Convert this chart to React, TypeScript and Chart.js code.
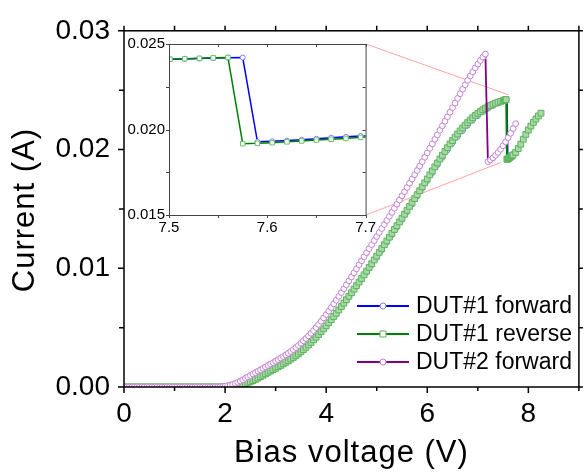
import React, { useEffect, useRef } from "react";
import { Chart, registerables } from "chart.js";

Chart.register(...registerables);

const FONT = "'Liberation Sans', Arial, Helvetica, sans-serif";

const SERIES = ["DUT#1 forward", "DUT#1 reverse", "DUT#2 forward"];
const X_TITLE = "Bias voltage (V)";
const Y_TITLE = "Current (A)";

// main axes
const X_MIN = 0, X_MAX = 9, X_MAJOR = 2, X_MINOR = 1;
const Y_MIN = 0, Y_MAX = 0.03, Y_MAJOR = 0.01, Y_MINOR = 0.005;
// inset axes
const IX_MIN = 7.5, IX_MAX = 7.7, IX_MAJOR = 0.1, IX_MINOR = 0.05;
const IY_MIN = 0.015, IY_MAX = 0.025, IY_MAJOR = 0.005, IY_MINOR = 0.0025;

// ---- DUT#1 forward: coarse sweep 0.0 .. 7.4 V (step 0.1 V)
const FWD1_RISE_V0 = 0;
const FWD1_RISE_DV = 0.1;
const FWD1_RISE = [
  0, 0, 0, 0, 0, 0, 0, 0, 0, 0,
  0, 0, 0, 0, 0, 0, 0, 0, 0, 0,
  0, 0,
  0.00004, 0.00013, 0.00026, 0.00043, 0.00063, 0.00086, 0.0011, 0.00134, 0.00157, 0.00181,
  0.00207, 0.00234, 0.00263, 0.00296, 0.00333, 0.00374, 0.00418, 0.00464, 0.00512, 0.00563,
  0.00616, 0.00671, 0.00728, 0.00786, 0.00845, 0.00904, 0.00965, 0.01026, 0.01089, 0.01152,
  0.01215, 0.01279, 0.01343, 0.01407, 0.01472, 0.01538, 0.01604, 0.01669, 0.01735, 0.01802,
  0.01868, 0.01932, 0.01994, 0.02052, 0.02106, 0.02156, 0.02202, 0.02244, 0.02281, 0.02314,
  0.02343, 0.02368, 0.0239,
];

// ---- DUT#1 fine sweep around the switching point (both directions)
const FINE_V = [7.501, 7.516, 7.531, 7.545, 7.56, 7.575, 7.59, 7.605, 7.62, 7.635, 7.65, 7.665, 7.68, 7.695];
const FWD1_FINE = [0.02411, 0.02413, 0.02415, 0.02418, 0.0242, 0.02421, 0.01928, 0.01931, 0.01935, 0.0194, 0.01946, 0.01952, 0.01957, 0.01962];
const REV1_FINE = [0.02411, 0.02414, 0.02416, 0.02419, 0.02421, 0.01917, 0.01919, 0.01923, 0.01928, 0.01933, 0.01938, 0.01943, 0.01948, 0.01954];

// ---- DUT#1 after switching: 7.75 .. 8.25 V (step 0.05 V)
const POST1_V0 = 7.75;
const POST1_DV = 0.05;
const FWD1_POST = [0.01982, 0.02014, 0.02051, 0.02092, 0.02132, 0.02168, 0.02201, 0.02231, 0.02259, 0.02284, 0.02307];
const REV1_POST = [0.01975, 0.02008, 0.02045, 0.02087, 0.02128, 0.02165, 0.02198, 0.02229, 0.02257, 0.02283, 0.02306];

// ---- DUT#1 reverse: 0.00 .. 7.45 V (step 0.05 V)
const REV1_RISE_V0 = 0;
const REV1_RISE_DV = 0.05;
const REV1_RISE = [
  0, 0, 0, 0, 0, 0, 0, 0, 0, 0,
  0, 0, 0, 0, 0, 0, 0, 0, 0, 0,
  0, 0, 0, 0, 0, 0, 0, 0, 0, 0,
  0, 0, 0, 0, 0, 0, 0, 0, 0, 0,
  0, 0, 0,
  0.00002, 0.00005, 0.00009, 0.00014, 0.0002, 0.00027, 0.00035, 0.00044, 0.00054, 0.00064,
  0.00075, 0.00087, 0.00099, 0.00111, 0.00123, 0.00135, 0.00146, 0.00158, 0.0017, 0.00182,
  0.00195, 0.00208, 0.00221, 0.00235, 0.00249, 0.00264, 0.0028, 0.00297, 0.00315, 0.00334,
  0.00354, 0.00375, 0.00397, 0.00419, 0.00442, 0.00466, 0.0049, 0.00515, 0.00541, 0.00567,
  0.00594, 0.00621, 0.00649, 0.00677, 0.00706, 0.00735, 0.00764, 0.00794, 0.00824, 0.00854,
  0.00884, 0.00914, 0.00945, 0.00976, 0.01007, 0.01038, 0.0107, 0.01102, 0.01134, 0.01166,
  0.01198, 0.0123, 0.01262, 0.01294, 0.01326, 0.01358, 0.0139, 0.01422, 0.01455, 0.01488,
  0.01521, 0.01554, 0.01587, 0.0162, 0.01653, 0.01686, 0.01719, 0.01752, 0.01786, 0.0182,
  0.01854, 0.01887, 0.0192, 0.01952, 0.01984, 0.02016, 0.02047, 0.02076, 0.02104, 0.02131,
  0.02157, 0.02182, 0.02205, 0.02227, 0.02248, 0.02268, 0.02287, 0.02304, 0.0232, 0.02335,
  0.02348, 0.0236, 0.02371, 0.02381, 0.0239, 0.02398, 0.02405,
];

// ---- DUT#2 forward: 0.00 .. 7.15 V (step 0.05 V)
const DUT2_RISE_V0 = 0;
const DUT2_RISE_DV = 0.05;
const DUT2_RISE = [
  0, 0, 0, 0, 0, 0, 0, 0, 0, 0,
  0, 0, 0, 0, 0, 0, 0, 0, 0, 0,
  0, 0, 0, 0, 0, 0, 0, 0, 0, 0,
  0, 0, 0, 0, 0, 0, 0, 0,
  0.00002, 0.00004, 0.00007, 0.00011, 0.00016, 0.00022, 0.0003, 0.00039, 0.0005, 0.00061,
  0.00073, 0.00085, 0.00097, 0.00109, 0.00121, 0.00133, 0.00145, 0.00157, 0.00169, 0.00181,
  0.00193, 0.00205, 0.00218, 0.00231, 0.00244, 0.00257, 0.0027, 0.00284, 0.00299, 0.00315,
  0.00332, 0.0035, 0.00369, 0.00389, 0.00409, 0.0043, 0.00452, 0.00476, 0.00501, 0.00527,
  0.00554, 0.00582, 0.0061, 0.00639, 0.00669, 0.007, 0.00731, 0.00763, 0.00795, 0.00828,
  0.00861, 0.00894, 0.00927, 0.00961, 0.00995, 0.01029, 0.01063, 0.01097, 0.01131, 0.01165,
  0.01199, 0.01233, 0.01267, 0.01301, 0.01335, 0.01369, 0.01403, 0.01437, 0.01471, 0.01505,
  0.0154, 0.01575, 0.0161, 0.01645, 0.0168, 0.01716, 0.01752, 0.01788, 0.01824, 0.01861,
  0.01898, 0.01935, 0.01972, 0.0201, 0.02048, 0.02086, 0.02124, 0.02162, 0.022, 0.02238,
  0.02276, 0.02314, 0.02353, 0.02392, 0.02431, 0.0247, 0.02508, 0.02546, 0.02583, 0.0262,
  0.02655, 0.02688, 0.0272, 0.0275, 0.02778, 0.02804,
];
// ---- DUT#2 after switching: 7.20 .. 7.75 V (step 0.05 V)
const DUT2_POST_V0 = 7.2;
const DUT2_POST_DV = 0.05;
const DUT2_POST = [0.01898, 0.01912, 0.0193, 0.01951, 0.01975, 0.02002, 0.02032, 0.02065, 0.021, 0.02137, 0.02176, 0.02218];

// zoom-window anchors of the connector lines (data coordinates in the main plot)
const ZOOM_TOP = { x: 7.61, y: 0.0246 };
const ZOOM_BOTTOM = { x: 7.45, y: 0.0189 };

// ---- layout (pixels)
const W = 584, H = 475;
const INSET = { left: 169, top: 44, right: 366, bottom: 215 };
const INSET_YW = 49, INSET_PT = 16, INSET_PR = 14, INSET_XH = 25;
const INSET_CW = INSET.right - INSET.left + INSET_YW + INSET_PR;
const INSET_CH = INSET.bottom - INSET.top + INSET_PT + INSET_XH;

const sweep = (v0: number, dv: number, cur: number[]) =>
  cur.map((y, i) => ({ x: Math.round((v0 + i * dv) * 10000) / 10000, y }));
const pairs = (vs: number[], cur: number[]) => vs.map((x, i) => ({ x, y: cur[i] }));

const fwd1 = [
  ...sweep(FWD1_RISE_V0, FWD1_RISE_DV, FWD1_RISE),
  ...pairs(FINE_V, FWD1_FINE),
  ...sweep(POST1_V0, POST1_DV, FWD1_POST),
];
const rev1 = [
  ...sweep(REV1_RISE_V0, REV1_RISE_DV, REV1_RISE),
  ...pairs(FINE_V, REV1_FINE),
  ...sweep(POST1_V0, POST1_DV, REV1_POST),
];
const dut2 = [
  ...sweep(DUT2_RISE_V0, DUT2_RISE_DV, DUT2_RISE),
  ...sweep(DUT2_POST_V0, DUT2_POST_DV, DUT2_POST),
];

const COLORS = {
  fwd1: { line: "#0000ff", mark: "#8080ff" },
  rev1: { line: "#008000", mark: "#5cb35c", fill: "#a9d9a9" },
  dut2: { line: "#800080", mark: "#c47fd4" },
};

function range(min: number, max: number, step: number) {
  const out: number[] = [];
  const n = Math.round((max - min) / step);
  for (let i = 0; i <= n; i++) out.push(min + i * step);
  return out;
}

const mainDecor = {
  id: "mainDecor",
  beforeDatasetsDraw(chart: any) {
    const { ctx, scales } = chart;
    const xs = scales.x, ys = scales.y;
    ctx.save();
    ctx.strokeStyle = "#ff8c8c";
    ctx.lineWidth = 0.8;
    ctx.beginPath();
    ctx.moveTo(INSET.right, INSET.top);
    ctx.lineTo(xs.getPixelForValue(ZOOM_TOP.x), ys.getPixelForValue(ZOOM_TOP.y));
    ctx.moveTo(INSET.right, INSET.bottom);
    ctx.lineTo(xs.getPixelForValue(ZOOM_BOTTOM.x), ys.getPixelForValue(ZOOM_BOTTOM.y));
    ctx.stroke();
    ctx.restore();
  },
  afterDraw(chart: any) {
    const { ctx, chartArea: a, scales } = chart;
    const xs = scales.x, ys = scales.y;
    ctx.save();
    ctx.strokeStyle = "#000";
    ctx.lineWidth = 1.5;
    ctx.strokeRect(a.left, a.top, a.right - a.left, a.bottom - a.top);
    ctx.beginPath();
    range(X_MIN, X_MAX, X_MINOR).forEach((v) => {
      const x = xs.getPixelForValue(v);
      const len = Math.abs(v / X_MAJOR - Math.round(v / X_MAJOR)) < 1e-6 ? 6 : 4;
      ctx.moveTo(x, a.bottom);
      ctx.lineTo(x, a.bottom + len);
      ctx.moveTo(x, a.top);
      ctx.lineTo(x, a.top - 5);
    });
    range(Y_MIN, Y_MAX, Y_MINOR).forEach((v) => {
      const y = ys.getPixelForValue(v);
      const len = Math.abs(v / Y_MAJOR - Math.round(v / Y_MAJOR)) < 1e-6 ? 6 : 5;
      ctx.moveTo(a.left, y);
      ctx.lineTo(a.left - len, y);
      ctx.moveTo(a.right, y);
      ctx.lineTo(a.right + 4, y);
    });
    ctx.stroke();

    // axis titles
    ctx.fillStyle = "#000";
    ctx.font = `31px ${FONT}`;
    (ctx as any).letterSpacing = "1px";
    ctx.textAlign = "center";
    ctx.textBaseline = "alphabetic";
    ctx.fillText(X_TITLE, (a.left + a.right) / 2, 462);
    ctx.save();
    ctx.translate(34, 210);
    ctx.rotate(-Math.PI / 2);
    ctx.fillText(Y_TITLE, 0, 0);
    ctx.restore();
    (ctx as any).letterSpacing = "0px";

    // legend
    const rows = [
      { name: SERIES[0], c: COLORS.fwd1, shape: "circle" },
      { name: SERIES[1], c: COLORS.rev1, shape: "rect" },
      { name: SERIES[2], c: COLORS.dut2, shape: "circle" },
    ];
    ctx.font = `23px ${FONT}`;
    ctx.textAlign = "left";
    ctx.textBaseline = "middle";
    rows.forEach((r, i) => {
      const y = 306 + i * 28;
      ctx.strokeStyle = r.c.line;
      ctx.lineWidth = 2;
      ctx.beginPath();
      ctx.moveTo(357, y);
      ctx.lineTo(409, y);
      ctx.stroke();
      ctx.fillStyle = "#fff";
      ctx.strokeStyle = r.c.mark;
      ctx.lineWidth = 1;
      ctx.beginPath();
      if (r.shape === "circle") ctx.arc(383, y, 3, 0, Math.PI * 2);
      else ctx.rect(380, y - 3, 6, 6);
      ctx.fill();
      ctx.stroke();
      ctx.fillStyle = "#000";
      ctx.fillText(r.name, 416, y + 1);
    });
    ctx.restore();
  },
};

const insetDecor = {
  id: "insetDecor",
  beforeDraw(chart: any) {
    const { ctx, chartArea: a } = chart;
    ctx.save();
    ctx.fillStyle = "#fff";
    ctx.fillRect(a.left, a.top, a.right - a.left, a.bottom - a.top);
    ctx.restore();
  },
  afterDraw(chart: any) {
    const { ctx, chartArea: a, scales } = chart;
    const xs = scales.x, ys = scales.y;
    ctx.save();
    ctx.strokeStyle = "#444";
    ctx.lineWidth = 1;
    ctx.strokeRect(a.left + 0.5, a.top + 0.5, a.right - a.left, a.bottom - a.top);
    ctx.beginPath();
    range(IX_MIN, IX_MAX, IX_MINOR).forEach((v) => {
      const x = Math.round(xs.getPixelForValue(v)) + 0.5;
      ctx.moveTo(x, a.bottom);
      ctx.lineTo(x, a.bottom + 3);
      ctx.moveTo(x, a.top);
      ctx.lineTo(x, a.top + 3);
    });
    range(IY_MIN, IY_MAX, IY_MINOR).forEach((v) => {
      const y = Math.round(ys.getPixelForValue(v)) + 0.5;
      ctx.moveTo(a.left, y);
      ctx.lineTo(a.left - 3, y);
      ctx.moveTo(a.right, y);
      ctx.lineTo(a.right - 3, y);
    });
    ctx.stroke();
    ctx.restore();
  },
};

export default function App() {
  const mainRef = useRef<HTMLCanvasElement | null>(null);
  const insetRef = useRef<HTMLCanvasElement | null>(null);

  useEffect(() => {
    const tickFont = { family: FONT, size: 28 };
    const main = new Chart(mainRef.current as HTMLCanvasElement, {
      type: "line",
      data: {
        datasets: [
          {
            label: SERIES[0], data: fwd1, borderColor: COLORS.fwd1.line, borderWidth: 1.8,
            pointStyle: "circle", pointRadius: 2.5, pointBorderWidth: 1,
            pointBorderColor: COLORS.fwd1.mark, pointBackgroundColor: "#fff", order: 3,
          },
          {
            label: SERIES[1], data: rev1, borderColor: COLORS.rev1.line, borderWidth: 1.8,
            pointStyle: "rect", pointRadius: 4.1, pointBorderWidth: 1,
            pointBorderColor: COLORS.rev1.mark, pointBackgroundColor: COLORS.rev1.fill, order: 2,
          },
          {
            label: SERIES[2], data: dut2, borderColor: COLORS.dut2.line, borderWidth: 1.8,
            pointStyle: "circle", pointRadius: 2.9, pointBorderWidth: 1,
            pointBorderColor: COLORS.dut2.mark, pointBackgroundColor: "#fff", order: 1,
          },
        ] as any,
      },
      options: {
        responsive: false,
        animation: false,
        devicePixelRatio: 1,
        layout: { padding: { top: 15, right: 3, left: 0, bottom: 0 } },
        plugins: { legend: { display: false }, tooltip: { enabled: false } },
        elements: { line: { tension: 0 } },
        scales: {
          x: {
            type: "linear", min: X_MIN, max: X_MAX,
            afterFit: (s: any) => { s.height = 88; },
            grid: { display: false, drawTicks: false },
            border: { display: false },
            ticks: {
              stepSize: X_MAJOR, includeBounds: false, padding: 10, color: "#000",
              font: tickFont, maxRotation: 0, callback: (v: any) => String(v),
            },
          },
          y: {
            type: "linear", min: Y_MIN, max: Y_MAX,
            afterFit: (s: any) => { s.width = 124; },
            grid: { display: false, drawTicks: false },
            border: { display: false },
            ticks: {
              stepSize: Y_MAJOR, padding: 14, color: "#000", font: tickFont,
              callback: (v: any) => Number(v).toFixed(2),
            },
          },
        },
      } as any,
      plugins: [mainDecor],
    });

    const insetFont = { family: FONT, size: 15 };
    const inset = new Chart(insetRef.current as HTMLCanvasElement, {
      type: "line",
      data: {
        datasets: [
          {
            label: SERIES[0], data: fwd1, borderColor: COLORS.fwd1.line, borderWidth: 1.5,
            pointStyle: "circle", pointRadius: 2.5, pointBorderWidth: 1,
            pointBorderColor: COLORS.fwd1.mark, pointBackgroundColor: "#fff", order: 2,
          },
          {
            label: SERIES[1], data: rev1, borderColor: COLORS.rev1.line, borderWidth: 1.5,
            pointStyle: "rect", pointRadius: 3.2, pointBorderWidth: 1,
            pointBorderColor: "#6cc06c", pointBackgroundColor: "#fff", order: 1,
          },
        ] as any,
      },
      options: {
        responsive: false,
        animation: false,
        devicePixelRatio: 1,
        layout: { padding: { top: INSET_PT, right: INSET_PR, left: 0, bottom: 0 } },
        plugins: { legend: { display: false }, tooltip: { enabled: false } },
        elements: { line: { tension: 0 } },
        scales: {
          x: {
            type: "linear", min: IX_MIN, max: IX_MAX,
            afterFit: (s: any) => { s.height = INSET_XH; },
            grid: { display: false, drawTicks: false },
            border: { display: false },
            ticks: {
              stepSize: IX_MAJOR, padding: 4, color: "#000", font: insetFont, maxRotation: 0,
              callback: (v: any) => Number(v).toFixed(1),
            },
          },
          y: {
            type: "linear", min: IY_MIN, max: IY_MAX,
            afterFit: (s: any) => { s.width = INSET_YW; },
            grid: { display: false, drawTicks: false },
            border: { display: false },
            ticks: {
              stepSize: IY_MAJOR, padding: 4, color: "#000", font: insetFont,
              callback: (v: any) => Number(v).toFixed(3),
            },
          },
        },
      } as any,
      plugins: [insetDecor],
    });

    return () => {
      main.destroy();
      inset.destroy();
    };
  }, []);

  return (
    <div style={{ position: "absolute", left: 0, top: 0, width: W, height: H, background: "#fff" }}>
      <canvas ref={mainRef} width={W} height={H} style={{ position: "absolute", left: 0, top: 0, width: W, height: H }} />
      <canvas
        ref={insetRef}
        width={INSET_CW}
        height={INSET_CH}
        style={{
          position: "absolute",
          left: INSET.left - INSET_YW,
          top: INSET.top - INSET_PT,
          width: INSET_CW,
          height: INSET_CH,
        }}
      />
    </div>
  );
}
